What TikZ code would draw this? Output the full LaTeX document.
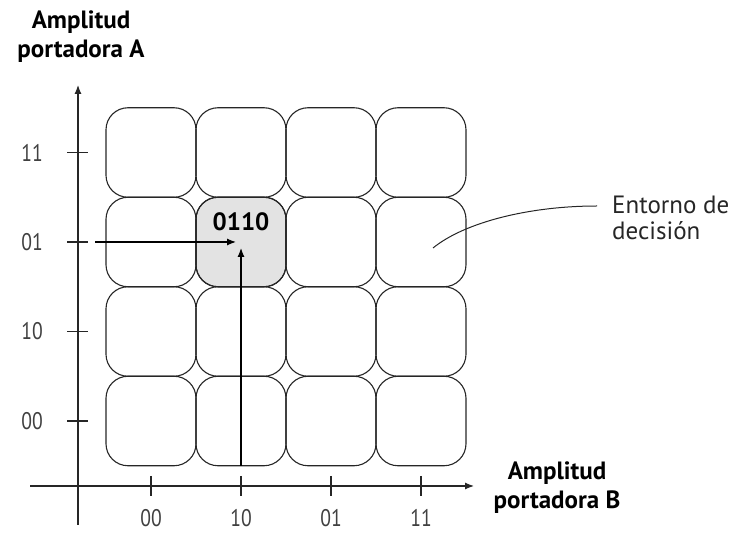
\documentclass[tikz,border=0pt]{standalone}
\usepackage{fontspec}
\setmainfont{PT Sans}
\usetikzlibrary{arrows.meta}
\begin{document}
\begin{tikzpicture}[x=1pt,y=-1pt,
  cell/.style={draw=black!85, rounded corners=22pt, minimum width=90pt, minimum height=89.5pt, line width=1.1pt, inner sep=0pt},
  axisline/.style={line width=1.2pt, draw=black!85},
  arr/.style={line width=1.2pt, -{Latex[length=9pt,width=7pt]}},
  ticklab/.style={font=\fontsize{24}{28}\selectfont, text=black!75, inner sep=0pt, xscale=0.82},
  axlab/.style={font=\fontsize{25}{29}\selectfont\bfseries, align=center, inner sep=0pt},
  note/.style={font=\fontsize{25}{26}\selectfont, align=left, inner sep=0pt, text=black!85}]
\useasboundingbox (0,0) rectangle (729,534);
% cells
\node[cell, fill=black!11] (c22) at (241,242) {};
\foreach \i/\x in {1/151,2/241,3/331,4/421}{
  \foreach \j/\y in {1/152.5,2/242,3/331.5,4/421}{
    \node[cell] (c\i\j) at (\x,\y) {};
  }
}
% axes
\coordinate (ya0) at (78,525);
\coordinate (ya1) at (78,85);
\coordinate (xa0) at (30,486);
\coordinate (xa1) at (474,486);
\draw[axisline, -{Latex[length=9pt,width=7pt]}] (ya0) -- (ya1);
\draw[axisline, -{Latex[length=9pt,width=7pt]}] (xa0) -- (xa1);
% y ticks
\foreach \y/\t in {152.5/11,242/01,331.5/10,421/00}{
  \coordinate (yt\t a) at (67,\y);
  \coordinate (yt\t b) at (88,\y);
  \draw[axisline] (yt\t a) -- (yt\t b);
  \node[ticklab, anchor=east] (yl\t) at (43,\y) {\t};
}
% x ticks
\foreach \x/\t in {151/00,241/10,331/01,421/11}{
  \coordinate (xt\t a) at (\x,476);
  \coordinate (xt\t b) at (\x,496);
  \draw[axisline] (xt\t a) -- (xt\t b);
  \node[ticklab] (xl\t) at (\x,518) {\t};
}
% arrows to 0110
\coordinate (hs) at (95,242);
\coordinate (he) at (236,242);
\coordinate (vs) at (241,466);
\coordinate (ve) at (241,248);
\draw[arr] (hs) -- (he);
\draw[arr] (vs) -- (ve);
\node[font=\fontsize{25}{28}\selectfont\bfseries, inner sep=0pt] (lab) at (241,222) {0110};
% axis labels
\node[axlab] (la) at (81,37) {Amplitud\\portadora A};
\node[axlab] (lb) at (557,488) {Amplitud\\portadora B};
% decision region note
\node[note, anchor=west] (ent) at (612,218) {Entorno de\\decisión};
\coordinate (lp) at (433,248);
\coordinate (le) at (597,206);
\draw[line width=1pt, draw=black!85] (lp) .. controls (465,222) and (530,206) .. (le);
\end{tikzpicture}
\end{document}
